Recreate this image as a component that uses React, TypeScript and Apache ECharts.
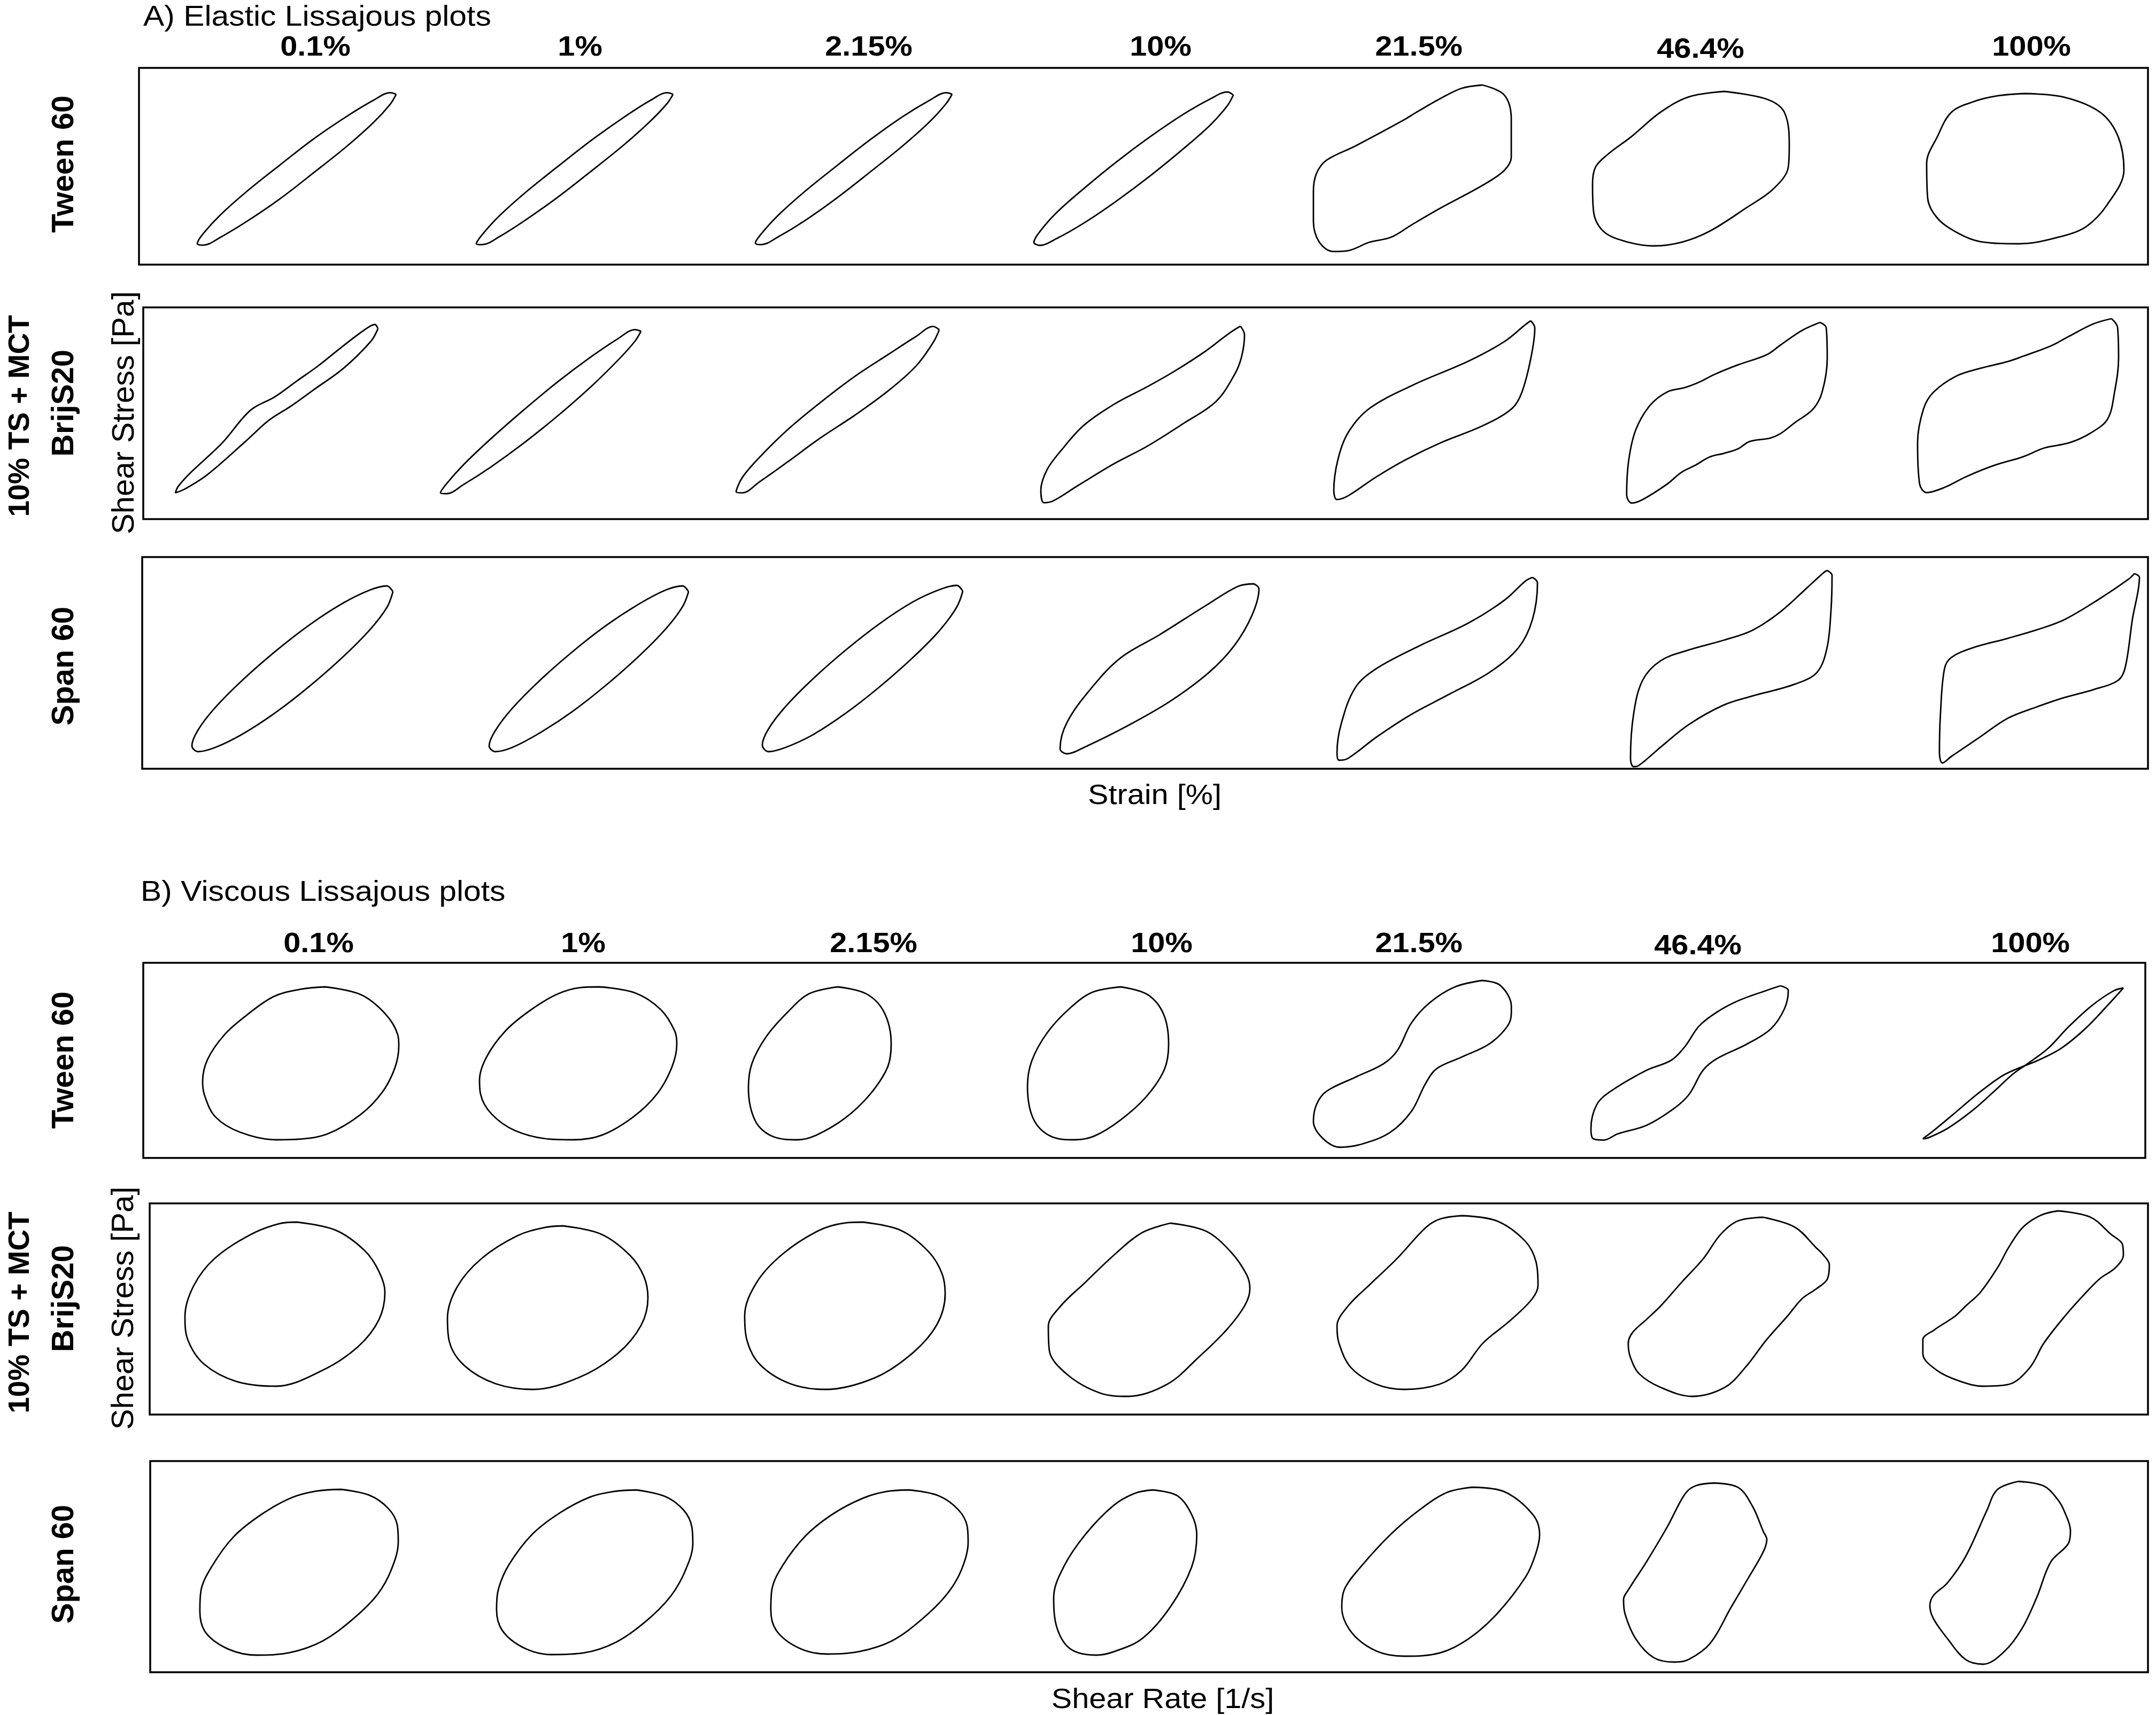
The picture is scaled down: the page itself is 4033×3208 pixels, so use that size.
import React, { useEffect, useRef } from "react";
import * as echarts from "echarts";

// ---------- labels ----------
const STRAIN_AMPLITUDES = ["0.1%", "1%", "2.15%", "10%", "21.5%", "46.4%", "100%"];
const SECTION_TITLES = ["A) Elastic Lissajous plots", "B) Viscous Lissajous plots"];
const X_TITLES = ["Strain [%]", "Shear Rate [1/s]"];
const Y_TITLE = "Shear Stress [Pa]";

// ---------- normalized Lissajous loops [strain or rate, stress], each in [-1, 1] ----------
// A) elastic — Tween 60
const elTween_01 = [[1.0,0.97],[0.94,0.84],[0.77,0.60],[0.50,0.29],[0.17,-0.05],[-0.17,-0.39],[-0.50,-0.68],[-0.77,-0.89],[-0.94,-0.99],[-1.0,-0.97],[-0.94,-0.84],[-0.77,-0.60],[-0.50,-0.29],[-0.17,0.05],[0.17,0.39],[0.50,0.68],[0.77,0.89],[0.94,0.99]];
const elTween_1 = [[1.0,0.97],[0.94,0.85],[0.77,0.62],[0.50,0.31],[0.17,-0.03],[-0.17,-0.37],[-0.50,-0.67],[-0.77,-0.89],[-0.94,-0.99],[-1.0,-0.98],[-0.94,-0.86],[-0.77,-0.62],[-0.50,-0.31],[-0.17,0.03],[0.17,0.37],[0.50,0.67],[0.77,0.89],[0.94,0.99]];
const elTween_215 = [[1.0,0.97],[0.94,0.85],[0.77,0.61],[0.50,0.30],[0.17,-0.04],[-0.17,-0.38],[-0.50,-0.68],[-0.77,-0.89],[-0.94,-0.99],[-1.0,-0.97],[-0.94,-0.85],[-0.77,-0.61],[-0.50,-0.30],[-0.17,0.04],[0.17,0.38],[0.50,0.68],[0.77,0.89],[0.94,0.99]];
const elTween_10 = [[1.0,0.96],[0.94,0.82],[0.77,0.57],[0.50,0.26],[0.17,-0.09],[-0.17,-0.42],[-0.50,-0.71],[-0.77,-0.91],[-0.94,-1.0],[-1.0,-0.96],[-0.94,-0.82],[-0.77,-0.57],[-0.50,-0.26],[-0.17,0.09],[0.17,0.42],[0.50,0.71],[0.77,0.91],[0.94,1.0]];
const elTween_215b = [[0.71,1.0],[0.93,0.88],[1.0,0.59],[1.0,0.14],[0.93,-0.02],[0.71,-0.20],[0.29,-0.47],[0,-0.67],[-0.21,-0.82],[-0.43,-0.88],[-0.64,-0.98],[-0.79,-0.99],[-0.93,-0.88],[-0.99,-0.63],[-0.99,-0.27],[-0.96,-0.06],[-0.86,0.10],[-0.57,0.27],[-0.07,0.59],[0.04,0.67],[0.29,0.84],[0.5,0.96]];
const elTween_464 = [[0.34,1.0],[0.77,0.90],[0.95,0.73],[1.0,0.29],[0.99,0.02],[0.84,-0.26],[0.56,-0.51],[0.19,-0.81],[-0.09,-0.95],[-0.38,-1.0],[-0.67,-0.94],[-0.89,-0.81],[-0.99,-0.55],[-1.0,-0.20],[-0.97,0.02],[-0.85,0.18],[-0.60,0.42],[-0.31,0.73],[-0.02,0.93]];
const elTween_100 = [[0,1.0],[0.40,0.95],[0.76,0.75],[0.94,0.43],[1.0,-0.02],[0.83,-0.48],[0.62,-0.77],[0.40,-0.89],[-0.06,-1.0],[-0.46,-0.97],[-0.68,-0.86],[-0.89,-0.66],[-0.99,-0.39],[-1.0,0.07],[-0.89,0.43],[-0.75,0.75],[-0.53,0.89],[-0.28,0.97]];

// A) elastic — 10% TS + MCT BrijS20
const elBrij_01 = [[1.0,0.95],[0.93,0.80],[0.66,0.48],[0.36,0.22],[0.14,0.03],[-0.08,-0.14],[-0.30,-0.38],[-0.68,-0.78],[-0.90,-0.95],[-1.0,-1.0],[-0.97,-0.92],[-0.85,-0.76],[-0.54,-0.41],[-0.26,-0.02],[-0.02,0.14],[0.20,0.33],[0.40,0.50],[0.63,0.72],[0.86,0.93],[0.97,1.0]];
const elBrij_1 = [[1.0,0.97],[0.94,0.85],[0.77,0.62],[0.50,0.30],[0.17,-0.05],[-0.17,-0.38],[-0.50,-0.67],[-0.77,-0.88],[-0.94,-0.99],[-1.0,-0.98],[-0.94,-0.87],[-0.77,-0.64],[-0.50,-0.33],[-0.17,0.02],[0.17,0.36],[0.50,0.66],[0.77,0.88],[0.94,0.99]];
const elBrij_215 = [[1.0,0.95],[0.94,0.80],[0.77,0.52],[0.50,0.23],[0.17,-0.06],[-0.17,-0.33],[-0.50,-0.62],[-0.77,-0.85],[-0.94,-0.98],[-1.0,-0.97],[-0.94,-0.80],[-0.77,-0.56],[-0.50,-0.24],[-0.17,0.09],[0.17,0.40],[0.50,0.66],[0.77,0.87],[0.94,0.99]];
const elBrij_10 = [[0.96,1.0],[1.0,0.9],[0.97,0.65],[0.90,0.45],[0.72,0.15],[0.41,-0.09],[0.05,-0.35],[-0.28,-0.55],[-0.64,-0.80],[-0.88,-0.97],[-0.97,-0.99],[-1.0,-0.85],[-0.94,-0.62],[-0.80,-0.40],[-0.58,-0.12],[-0.28,0.12],[0.05,0.32],[0.31,0.49],[0.62,0.72],[0.85,0.92]];
const elBrij_215b = [[0.96,1.0],[1.0,0.92],[0.96,0.58],[0.87,0.20],[0.77,0.02],[0.48,-0.17],[0.06,-0.36],[-0.29,-0.55],[-0.58,-0.74],[-0.86,-0.95],[-0.97,-0.99],[-1.0,-0.89],[-0.96,-0.55],[-0.86,-0.25],[-0.65,0.02],[-0.22,0.28],[0.34,0.55],[0.70,0.77],[0.91,0.96]];
const elBrij_464 = [[0.93,1.0],[0.99,0.94],[1.0,0.60],[0.95,0.23],[0.86,0.04],[0.68,-0.11],[0.54,-0.23],[0.44,-0.28],[0.23,-0.32],[0.12,-0.40],[-0.02,-0.45],[-0.16,-0.49],[-0.30,-0.58],[-0.44,-0.66],[-0.58,-0.79],[-0.82,-0.96],[-0.93,-1.0],[-0.98,-0.91],[-0.96,-0.53],[-0.89,-0.19],[-0.75,0.08],[-0.58,0.23],[-0.40,0.28],[-0.26,0.34],[-0.12,0.42],[0.12,0.53],[0.40,0.64],[0.54,0.75],[0.75,0.91]];
const elBrij_100 = [[0.93,1.0],[0.99,0.90],[1.0,0.55],[0.96,0.16],[0.89,-0.15],[0.72,-0.31],[0.51,-0.42],[0.26,-0.48],[0.05,-0.58],[-0.24,-0.68],[-0.52,-0.81],[-0.73,-0.93],[-0.91,-0.99],[-0.98,-0.89],[-1.0,-0.42],[-0.94,-0.03],[-0.84,0.16],[-0.62,0.34],[-0.38,0.43],[-0.10,0.51],[0.05,0.57],[0.33,0.69],[0.51,0.80],[0.75,0.94]];

// A) elastic — Span 60
const elSpan_01 = [[1.0,0.93],[0.94,0.74],[0.77,0.47],[0.50,0.14],[0.17,-0.21],[-0.17,-0.53],[-0.50,-0.79],[-0.77,-0.95],[-0.94,-1.0],[-1.0,-0.93],[-0.94,-0.74],[-0.77,-0.47],[-0.50,-0.14],[-0.17,0.21],[0.17,0.53],[0.50,0.79],[0.77,0.95],[0.94,1.0]];
const elSpan_1 = [[1.0,0.93],[0.94,0.75],[0.77,0.48],[0.50,0.15],[0.17,-0.20],[-0.17,-0.52],[-0.50,-0.78],[-0.77,-0.95],[-0.94,-1.0],[-1.0,-0.93],[-0.94,-0.75],[-0.77,-0.48],[-0.50,-0.15],[-0.17,0.20],[0.17,0.52],[0.50,0.78],[0.77,0.95],[0.94,1.0]];
const elSpan_215 = [[1.0,0.93],[0.94,0.74],[0.77,0.46],[0.50,0.13],[0.17,-0.22],[-0.17,-0.54],[-0.50,-0.80],[-0.77,-0.95],[-0.94,-1.0],[-1.0,-0.92],[-0.94,-0.73],[-0.77,-0.46],[-0.50,-0.13],[-0.17,0.22],[0.17,0.54],[0.50,0.80],[0.77,0.95],[0.94,1.0]];
const elSpan_10 = [[0.95,1.0],[1.0,0.94],[0.93,0.63],[0.75,0.27],[0.50,-0.04],[0.11,-0.38],[-0.32,-0.67],[-0.75,-0.92],[-0.93,-1.0],[-1.0,-0.94],[-0.93,-0.63],[-0.68,-0.22],[-0.39,0.13],[0.0,0.40],[0.46,0.74],[0.79,0.97]];
const elSpan_215b = [[0.95,1.0],[1.0,0.94],[0.95,0.54],[0.81,0.23],[0.52,-0.04],[0.10,-0.29],[-0.26,-0.50],[-0.61,-0.75],[-0.89,-0.98],[-0.98,-1.0],[-1.0,-0.92],[-0.96,-0.61],[-0.82,-0.21],[-0.61,0.0],[-0.18,0.25],[0.31,0.50],[0.67,0.75],[0.88,0.96]];
const elSpan_464 = [[0.95,1.0],[1.0,0.95],[0.99,0.60],[0.95,0.21],[0.85,-0.04],[0.63,-0.16],[0.21,-0.28],[-0.07,-0.37],[-0.42,-0.57],[-0.70,-0.80],[-0.92,-0.99],[-0.97,-1.0],[-1.0,-0.92],[-0.97,-0.47],[-0.88,-0.12],[-0.70,0.08],[-0.42,0.19],[-0.07,0.29],[0.21,0.39],[0.49,0.58],[0.77,0.84],[0.92,0.98]];
const elSpan_100 = [[0.95,1.0],[1.0,0.96],[0.93,0.52],[0.86,0.02],[0.79,-0.12],[0.54,-0.22],[0.26,-0.30],[-0.02,-0.40],[-0.31,-0.52],[-0.59,-0.72],[-0.87,-0.92],[-0.96,-0.99],[-0.99,-0.88],[-0.98,-0.48],[-0.94,0.0],[-0.87,0.12],[-0.66,0.22],[-0.31,0.32],[0.01,0.42],[0.26,0.52],[0.61,0.74],[0.89,0.94]];

// B) viscous — Tween 60
const viTween_01 = [[0.25,1.0],[0.61,0.90],[0.86,0.65],[0.99,0.37],[1.0,0.23],[0.96,-0.06],[0.83,-0.38],[0.61,-0.67],[0.28,-0.92],[0,-0.99],[-0.25,-1.0],[-0.62,-0.90],[-0.87,-0.70],[-0.98,-0.42],[-1.0,-0.24],[-0.95,0.05],[-0.78,0.37],[-0.56,0.62],[-0.28,0.87],[0,0.97]];
const viTween_1 = [[0.22,1.0],[0.58,0.92],[0.84,0.70],[0.98,0.42],[1.0,0.25],[0.95,-0.05],[0.80,-0.40],[0.56,-0.70],[0.24,-0.94],[-0.05,-1.0],[-0.30,-0.99],[-0.64,-0.88],[-0.88,-0.66],[-0.99,-0.40],[-1.0,-0.22],[-0.93,0.08],[-0.74,0.42],[-0.50,0.68],[-0.22,0.90],[0.02,0.99]];
const viTween_215 = [[0.25,1.0],[0.65,0.91],[0.90,0.67],[1.0,0.26],[0.95,-0.05],[0.70,-0.41],[0.35,-0.72],[-0.05,-0.94],[-0.30,-1.0],[-0.65,-0.96],[-0.90,-0.76],[-1.0,-0.32],[-0.95,0.0],[-0.75,0.35],[-0.45,0.67],[-0.15,0.91]];
const viTween_10 = [[0.32,1.0],[0.70,0.90],[0.93,0.64],[1.0,0.25],[0.94,-0.08],[0.68,-0.44],[0.32,-0.74],[-0.05,-0.95],[-0.33,-1.0],[-0.68,-0.95],[-0.92,-0.72],[-1.0,-0.30],[-0.94,0.03],[-0.72,0.40],[-0.40,0.72],[-0.08,0.93]];
const viTween_215b = [[0.70,1.0],[0.88,0.94],[0.99,0.69],[0.99,0.61],[0.95,0.45],[0.77,0.24],[0.49,0.08],[0.24,-0.06],[0.13,-0.24],[-0.01,-0.57],[-0.22,-0.82],[-0.50,-0.96],[-0.72,-1.0],[-0.89,-0.90],[-0.99,-0.69],[-0.96,-0.49],[-0.86,-0.33],[-0.57,-0.16],[-0.29,0.0],[-0.15,0.16],[-0.01,0.49],[0.17,0.73],[0.42,0.92]];
const viTween_464 = [[0.91,1.0],[0.99,0.94],[0.95,0.70],[0.81,0.44],[0.56,0.24],[0.27,0.06],[0.13,-0.09],[-0.01,-0.40],[-0.16,-0.58],[-0.44,-0.80],[-0.73,-0.91],[-0.87,-0.99],[-0.98,-0.97],[-1.0,-0.84],[-0.94,-0.53],[-0.80,-0.36],[-0.44,-0.09],[-0.19,0.04],[-0.05,0.22],[0.09,0.48],[0.27,0.66],[0.49,0.81],[0.77,0.94]];
const viTween_100 = [[1.0,1.0],[0.85,0.78],[0.62,0.46],[0.38,0.20],[0.15,0.04],[0.0,-0.04],[-0.20,-0.16],[-0.45,-0.40],[-0.70,-0.68],[-0.90,-0.90],[-1.0,-1.0],[-0.95,-0.99],[-0.75,-0.86],[-0.50,-0.62],[-0.28,-0.36],[-0.10,-0.14],[0.05,0.0],[0.25,0.20],[0.45,0.48],[0.68,0.76],[0.90,0.96]];

// B) viscous — 10% TS + MCT BrijS20
const viBrij_01 = [[0.12,1.0],[0.51,0.90],[0.80,0.65],[0.94,0.40],[1.0,0.15],[0.94,-0.19],[0.73,-0.52],[0.37,-0.81],[-0.09,-1.0],[-0.49,-0.94],[-0.81,-0.73],[-0.97,-0.44],[-1.0,-0.15],[-0.91,0.23],[-0.70,0.56],[-0.34,0.85],[-0.06,0.98]];
const viBrij_1 = [[0.15,1.0],[0.53,0.90],[0.82,0.64],[0.96,0.38],[1.0,0.12],[0.93,-0.22],[0.70,-0.56],[0.32,-0.85],[-0.15,-1.0],[-0.52,-0.93],[-0.83,-0.71],[-0.98,-0.42],[-1.0,-0.13],[-0.90,0.26],[-0.66,0.60],[-0.30,0.88],[-0.03,0.98]];
const viBrij_215 = [[0.18,1.0],[0.56,0.90],[0.84,0.64],[0.97,0.38],[1.0,0.14],[0.92,-0.22],[0.68,-0.56],[0.30,-0.86],[-0.20,-1.0],[-0.55,-0.93],[-0.85,-0.70],[-0.98,-0.40],[-1.0,-0.12],[-0.88,0.28],[-0.62,0.62],[-0.26,0.90],[0.0,0.99]];
const viBrij_10 = [[0.21,1.0],[0.56,0.91],[0.81,0.67],[0.97,0.40],[1.0,0.24],[0.95,0.05],[0.77,-0.23],[0.49,-0.55],[0.18,-0.86],[-0.21,-1.0],[-0.49,-0.96],[-0.81,-0.75],[-0.99,-0.47],[-1.0,-0.19],[-0.88,0.04],[-0.63,0.32],[-0.35,0.63],[-0.07,0.89]];
const viBrij_215b = [[0.24,1.0],[0.59,0.94],[0.87,0.71],[0.98,0.47],[1.0,0.20],[0.94,0.04],[0.73,-0.20],[0.45,-0.47],[0.24,-0.78],[0.02,-0.94],[-0.33,-1.0],[-0.61,-0.94],[-0.86,-0.75],[-0.98,-0.47],[-1.0,-0.27],[-0.89,-0.04],[-0.68,0.20],[-0.40,0.51],[-0.12,0.86],[0.02,0.96]];
const viBrij_464 = [[0.35,1.0],[0.66,0.89],[0.87,0.66],[0.94,0.58],[1.0,0.47],[0.98,0.31],[0.87,0.20],[0.73,0.09],[0.59,-0.10],[0.38,-0.37],[0.17,-0.68],[-0.03,-0.90],[-0.35,-1.0],[-0.66,-0.90],[-0.87,-0.75],[-0.96,-0.56],[-0.98,-0.41],[-0.94,-0.29],[-0.80,-0.14],[-0.66,0.01],[-0.45,0.28],[-0.24,0.54],[-0.07,0.81],[0.10,0.96]];
const viBrij_100 = [[0.35,1.0],[0.67,0.93],[0.88,0.73],[0.99,0.62],[1.0,0.50],[0.92,0.35],[0.77,0.23],[0.63,0.07],[0.42,-0.20],[0.21,-0.51],[0.07,-0.79],[-0.14,-0.98],[-0.39,-1.0],[-0.63,-0.94],[-0.85,-0.82],[-0.99,-0.63],[-0.99,-0.47],[-0.88,-0.36],[-0.67,-0.20],[-0.56,-0.08],[-0.42,0.07],[-0.25,0.35],[-0.14,0.58],[0.0,0.81],[0.18,0.95]];

// B) viscous — Span 60
const viSpan_01 = [[0.43,1.0],[0.71,0.93],[0.90,0.77],[0.99,0.57],[1.0,0.37],[0.93,0.03],[0.79,-0.27],[0.54,-0.57],[0.24,-0.83],[-0.09,-0.97],[-0.42,-1.0],[-0.70,-0.93],[-0.93,-0.73],[-0.99,-0.47],[-0.98,-0.23],[-0.87,0.07],[-0.65,0.43],[-0.37,0.70],[-0.07,0.90],[0.18,0.98]];
const viSpan_1 = [[0.43,1.0],[0.72,0.92],[0.91,0.75],[0.99,0.55],[1.0,0.35],[0.92,0.01],[0.77,-0.30],[0.52,-0.60],[0.22,-0.85],[-0.11,-0.98],[-0.43,-1.0],[-0.71,-0.92],[-0.93,-0.71],[-0.99,-0.45],[-0.97,-0.20],[-0.86,0.10],[-0.63,0.46],[-0.35,0.72],[-0.05,0.91],[0.19,0.98]];
const viSpan_215 = [[0.41,1.0],[0.70,0.93],[0.90,0.76],[0.99,0.56],[1.0,0.36],[0.93,0.02],[0.78,-0.28],[0.53,-0.58],[0.23,-0.84],[-0.10,-0.97],[-0.42,-1.0],[-0.70,-0.93],[-0.93,-0.72],[-0.99,-0.46],[-0.98,-0.22],[-0.87,0.08],[-0.64,0.44],[-0.36,0.71],[-0.06,0.90],[0.17,0.98]];
const viSpan_10 = [[0.38,1.0],[0.72,0.93],[0.92,0.70],[0.99,0.46],[0.92,0.07],[0.62,-0.42],[0.23,-0.80],[-0.17,-0.96],[-0.41,-1.0],[-0.76,-0.93],[-0.95,-0.68],[-1.0,-0.30],[-0.86,0.07],[-0.56,0.46],[-0.17,0.81],[0.13,0.96]];
const viSpan_215b = [[0.32,1.0],[0.64,0.95],[0.93,0.68],[1.0,0.44],[0.96,0.21],[0.86,-0.06],[0.57,-0.50],[0.29,-0.79],[0.0,-0.96],[-0.36,-1.0],[-0.64,-0.94],[-0.89,-0.72],[-0.99,-0.42],[-0.96,-0.20],[-0.79,0.07],[-0.50,0.44],[-0.21,0.73],[0.07,0.94]];
const viSpan_464 = [[0.26,1.0],[0.60,0.95],[0.80,0.74],[0.95,0.46],[1.0,0.37],[0.95,0.23],[0.75,-0.05],[0.50,-0.39],[0.21,-0.79],[-0.09,-0.97],[-0.29,-1.0],[-0.58,-0.95],[-0.83,-0.74],[-0.98,-0.46],[-1.0,-0.30],[-0.93,-0.19],[-0.68,0.12],[-0.39,0.51],[-0.14,0.88],[0.01,0.97]];
const viSpan_100 = [[0.26,1.0],[0.62,0.95],[0.82,0.80],[0.92,0.66],[1.0,0.46],[0.97,0.32],[0.72,0.12],[0.52,-0.27],[0.31,-0.61],[0.06,-0.86],[-0.24,-1.0],[-0.49,-0.95],[-0.75,-0.72],[-0.95,-0.50],[-1.0,-0.36],[-0.95,-0.25],[-0.75,-0.11],[-0.49,0.18],[-0.19,0.68],[-0.04,0.91]];

const ROW_LOOPS = [
  [elTween_01, elTween_1, elTween_215, elTween_10, elTween_215b, elTween_464, elTween_100],
  [elBrij_01, elBrij_1, elBrij_215, elBrij_10, elBrij_215b, elBrij_464, elBrij_100],
  [elSpan_01, elSpan_1, elSpan_215, elSpan_10, elSpan_215b, elSpan_464, elSpan_100],
  [viTween_01, viTween_1, viTween_215, viTween_10, viTween_215b, viTween_464, viTween_100],
  [viBrij_01, viBrij_1, viBrij_215, viBrij_10, viBrij_215b, viBrij_464, viBrij_100],
  [viSpan_01, viSpan_1, viSpan_215, viSpan_10, viSpan_215b, viSpan_464, viSpan_100],
];

// ---------- layout (pixels) ----------
// panel frames [x0, y0, x1, y1]
const PANEL_RECTS = [
  [260, 127, 4018, 495],
  [268, 575, 4018, 971],
  [266, 1042, 4018, 1438],
  [268, 1801, 4013, 2166],
  [280, 2251, 4018, 2646],
  [281, 2733, 4018, 3128],
];
// bounding box of each loop [x0, y0, x1, y1]
const LOOP_BOXES = [
  [[369,172,741,460],[891,172,1259,459],[1413,172,1781,459],[1934,172,2307,459],[2455,159,2827,472],[2979,171,3347,460],[3604,175,3973,456]],
  [[328,607,707,922],[824,615,1199,925],[1377,609,1757,925],[1947,610,2328,942],[2495,600,2871,936],[3039,603,3418,941],[3587,596,3963,923]],
  [[359,1096,735,1406],[915,1096,1288,1406],[1426,1095,1801,1406],[1983,1092,2355,1410],[2501,1080,2876,1422],[3050,1067,3427,1434],[3626,1073,4002,1429]],
  [[379,1846,746,2132],[897,1846,1266,2132],[1400,1846,1667,2132],[1922,1846,2186,2132],[2455,1834,2829,2146],[2976,1844,3347,2134],[3597,1848,3972,2130]],
  [[346,2286,720,2593],[837,2293,1212,2599],[1393,2286,1768,2599],[1961,2288,2338,2612],[2501,2274,2877,2599],[3042,2277,3422,2612],[3595,2265,3972,2593]],
  [[372,2786,745,3096],[927,2787,1296,3095],[1440,2787,1811,3094],[1971,2787,2240,3096],[2508,2782,2880,3098],[3037,2774,3305,3109],[3610,2771,3873,3113]],
];
const COL_LABEL_X = [
  [590, 1085, 1625, 2171, 2654, 3181, 3800],
  [596, 1091, 1634, 2173, 2654, 3176, 3798],
];
const COL_LABEL_Y = [86, 1763];

const FONT = "'Liberation Sans', Arial, Helvetica, sans-serif";

function hText(text: string, x: number, y: number, size: number, bold: boolean, align: string, sx: number) {
  return {
    type: "text",
    x,
    y,
    scaleX: sx,
    silent: true,
    style: {
      text,
      fontSize: size,
      fontWeight: bold ? "bold" : "normal",
      fontFamily: FONT,
      fill: "#000",
      align,
      verticalAlign: "middle",
    },
  };
}

function vText(text: string, x: number, y: number, size: number, bold: boolean) {
  return {
    type: "text",
    x,
    y,
    rotation: Math.PI / 2,
    silent: true,
    style: {
      text,
      fontSize: size,
      fontWeight: bold ? "bold" : "normal",
      fontFamily: FONT,
      fill: "#000",
      align: "center",
      verticalAlign: "middle",
    },
  };
}

function buildOption() {
  const grids: any[] = [];
  const xAxes: any[] = [];
  const yAxes: any[] = [];
  const series: any[] = [];
  ROW_LOOPS.forEach((row, r) => {
    row.forEach((loop, c) => {
      const i = grids.length;
      const [x0, y0, x1, y1] = LOOP_BOXES[r][c];
      grids.push({ left: x0, top: y0, width: x1 - x0, height: y1 - y0, containLabel: false, show: false });
      xAxes.push({ type: "value", gridIndex: i, min: -1, max: 1, show: false });
      yAxes.push({ type: "value", gridIndex: i, min: -1, max: 1, show: false });
      series.push({
        type: "line",
        xAxisIndex: i,
        yAxisIndex: i,
        data: [...loop, loop[0]],
        smooth: 0.35,
        symbol: "none",
        clip: false,
        silent: true,
        lineStyle: { color: "#000", width: 2.8 },
      });
    });
  });

  const graphics: any[] = [];
  PANEL_RECTS.forEach(([x0, y0, x1, y1]) => {
    graphics.push({
      type: "rect",
      silent: true,
      shape: { x: x0, y: y0, width: x1 - x0, height: y1 - y0 },
      style: { fill: "none", stroke: "#000", lineWidth: 3.5 },
    });
  });
  // section titles
  graphics.push(hText(SECTION_TITLES[0], 268, 29, 54, false, "left", 1.09));
  graphics.push(hText(SECTION_TITLES[1], 263, 1666, 54, false, "left", 1.09));
  // strain amplitude labels
  COL_LABEL_X.forEach((xs, s) => {
    xs.forEach((x, k) => {
      const dy = k === 5 ? 4 : 0;
      graphics.push(hText(STRAIN_AMPLITUDES[k], x, COL_LABEL_Y[s] + dy, 52, true, "center", 1.11));
    });
  });
  // x axis titles
  graphics.push(hText(X_TITLES[0], 2160, 1487, 51, false, "center", 1.13));
  graphics.push(hText(X_TITLES[1], 2175, 3178, 51, false, "center", 1.13));
  // row labels
  graphics.push(vText("Tween 60", 116, 307, 58, true));
  graphics.push(vText("BrijS20", 116, 754, 58, true));
  graphics.push(vText("10% TS + MCT", 35, 778, 55, true));
  graphics.push(vText(Y_TITLE, 229, 772, 58, false));
  graphics.push(vText("Span 60", 116, 1246, 58, true));
  graphics.push(vText("Tween 60", 116, 1983, 58, true));
  graphics.push(vText("BrijS20", 116, 2429, 58, true));
  graphics.push(vText("10% TS + MCT", 35, 2455, 55, true));
  graphics.push(vText(Y_TITLE, 228, 2447, 58, false));
  graphics.push(vText("Span 60", 116, 2926, 58, true));

  return {
    animation: false,
    backgroundColor: "#ffffff",
    grid: grids,
    xAxis: xAxes,
    yAxis: yAxes,
    series,
    graphic: { elements: graphics },
  };
}

export default function App() {
  const ref = useRef<HTMLDivElement>(null);
  useEffect(() => {
    if (!ref.current) return;
    const chart = echarts.init(ref.current, undefined, { renderer: "svg" });
    chart.setOption(buildOption() as any);
    return () => chart.dispose();
  }, []);
  return (
    <div
      ref={ref}
      style={{ position: "fixed", left: 0, top: 0, width: 4033, height: 3208, background: "#fff" }}
    />
  );
}
